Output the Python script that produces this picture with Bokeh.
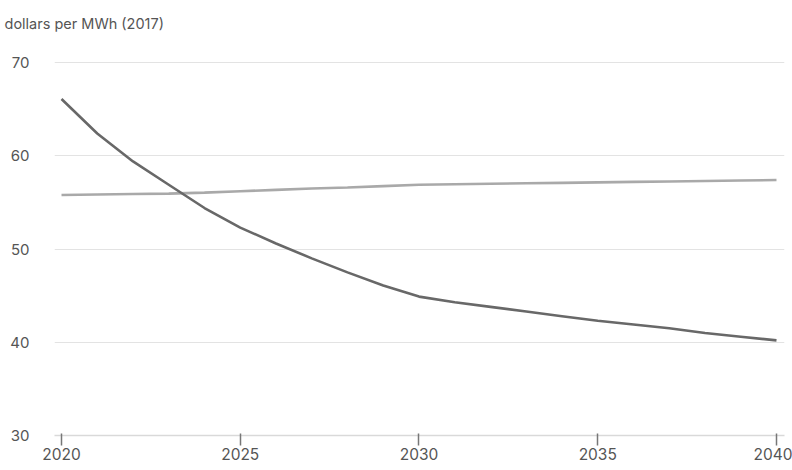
from bokeh.plotting import figure
from bokeh.models import Range1d, FixedTicker, Title
from bokeh.embed import file_html
from bokeh.resources import INLINE

years = list(range(2020, 2041))
declining = [66.1, 62.4, 59.4, 56.9, 54.4, 52.3, 50.6, 49.0, 47.5, 46.1, 44.9,
             44.3, 43.8, 43.3, 42.8, 42.3, 41.9, 41.5, 41.0, 40.6, 40.2]
flat = [55.8, 55.85, 55.9, 55.95, 56.05, 56.2, 56.35, 56.5, 56.6, 56.75, 56.9,
        56.95, 57.0, 57.05, 57.1, 57.15, 57.2, 57.25, 57.3, 57.35, 57.4]
x_ticks = [2020, 2025, 2030, 2035, 2040]
y_ticks = [30, 40, 50, 60, 70]
unit_label = "dollars per MWh (2017)"

FONT = "Inter"

p = figure(width=792, height=470, output_backend="svg", toolbar_location=None,
           x_range=Range1d(2019.804, 2040.224), y_range=Range1d(30, 72.37),
           min_border_left=54, min_border_right=8, min_border_top=40,
           min_border_bottom=35)
p.outline_line_color = None
p.background_fill_color = "white"
p.border_fill_color = "white"

t = Title(text=unit_label, align="left", offset=-50, text_font=FONT,
          text_font_size="14.5px", text_font_style="normal", text_color="#555555",
          standoff=18)
p.add_layout(t, "above")

p.line(years, flat, line_color="#a9a9a9", line_width=2.6)
p.line(years, declining, line_color="#686868", line_width=2.6)

# x axis
p.xaxis.ticker = FixedTicker(ticks=x_ticks)
p.xaxis.axis_line_color = "#d9d9d9"
p.xaxis.axis_line_width = 1.5
p.xaxis.major_tick_line_color = "#777777"
p.xaxis.major_tick_line_width = 1.5
p.xaxis.major_tick_out = 10
p.xaxis.major_tick_in = 2
p.xaxis.minor_tick_line_color = None
p.xaxis.major_label_standoff = 2
p.xaxis.major_label_text_font = FONT
p.xaxis.major_label_text_font_size = "15.5px"
p.xaxis.major_label_text_color = "#555555"

# y axis
p.yaxis.ticker = FixedTicker(ticks=y_ticks)
p.yaxis.axis_line_color = None
p.yaxis.major_tick_line_color = None
p.yaxis.minor_tick_line_color = None
p.yaxis.major_label_standoff = 19
p.yaxis.major_label_text_font = FONT
p.yaxis.major_label_text_font_size = "15px"
p.yaxis.major_label_text_color = "#555555"

p.xgrid.grid_line_color = None
p.ygrid.ticker = FixedTicker(ticks=y_ticks)
p.ygrid.grid_line_color = "#e3e3e3"
p.ygrid.grid_line_width = 1.2

open("out.html", "w").write(file_html(p, INLINE))
